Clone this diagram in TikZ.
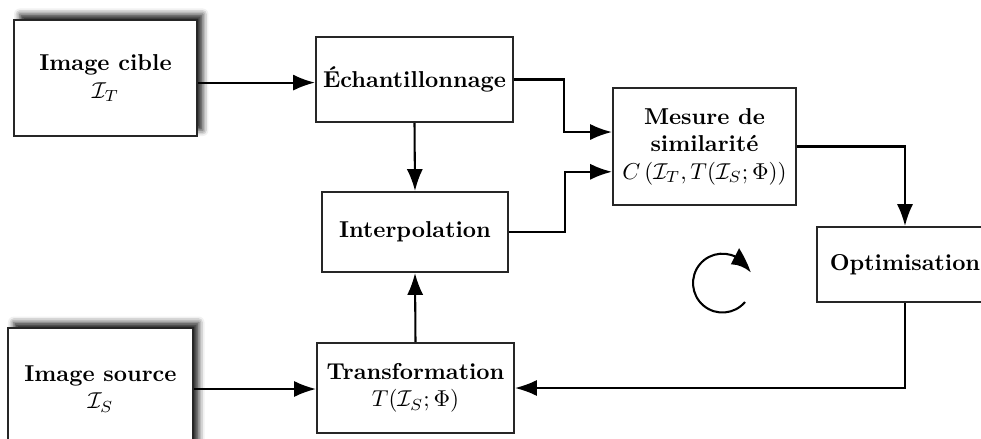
\documentclass[tikz,border=0pt]{standalone}
\usetikzlibrary{arrows.meta,shadows.blur,bending}
\begin{document}
\begin{tikzpicture}[x=0.435pt,y=-0.435pt,
  box/.style={draw=black!85, line width=0.9pt, fill=white, align=center, inner sep=0pt},
  shbox/.style={box, blur shadow={shadow xshift=2.5pt, shadow yshift=2.5pt, shadow blur radius=2.5pt, shadow opacity=85}},
  tip/.style={-{Latex[length=9.5pt,width=7pt]}},
  arr/.style={line width=0.9pt, tip}]
\useasboundingbox (0,0) rectangle (981,439);
\node[shbox, minimum width=79.6pt, minimum height=50.5pt] (cible) at (105.5,78) {\textbf{Image cible}\\$\mathcal{I}_T$};
\node[box, minimum width=85.7pt, minimum height=37pt] (ech) at (414.5,79.5) {\textbf{Échantillonnage}};
\node[box, minimum width=80.9pt, minimum height=34.8pt] (interp) at (415,232) {\textbf{Interpolation}};
\node[box, minimum width=79.6pt, minimum height=50.9pt] (mesure) at (704.5,146.5) {\textbf{Mesure de}\\\textbf{similarité}\\$C\left(\mathcal{I}_T, T(\mathcal{I}_S;\Phi)\right)$};
\node[box, minimum width=76.6pt, minimum height=32.6pt] (optim) at (905,264.5) {\textbf{Optimisation}};
\node[shbox, minimum width=80.5pt, minimum height=53pt] (source) at (100.5,389) {\textbf{Image source}\\$\mathcal{I}_S$};
\node[box, minimum width=85.7pt, minimum height=39.2pt] (trans) at (415.5,388) {\textbf{Transformation}\\$T(\mathcal{I}_S;\Phi)$};
\draw[arr] ([yshift=-2pt]cible.east) -- ([yshift=-2pt]cible.east -| ech.west);
\draw[arr] (ech.east) -- ++(50,0) |- ([yshift=6.3pt]mesure.west);
\draw[arr] (interp.east) -- ++(56,0) |- ([yshift=-11pt]mesure.west);
\draw[arr] (ech.south) -- (interp.north);
\draw[arr] (trans.north) -- (interp.south);
\draw[arr] (source.east) -- (source.east -| trans.west);
\draw[arr] (mesure.east) -| (optim.north);
\draw[arr] (optim.south) |- (trans.east);
\draw[line width=0.9pt, -{Latex[length=10pt,width=8pt,bend]}] (745,302) arc[start angle=-40, end angle=-340, radius=12.8pt];
\end{tikzpicture}
\end{document}
